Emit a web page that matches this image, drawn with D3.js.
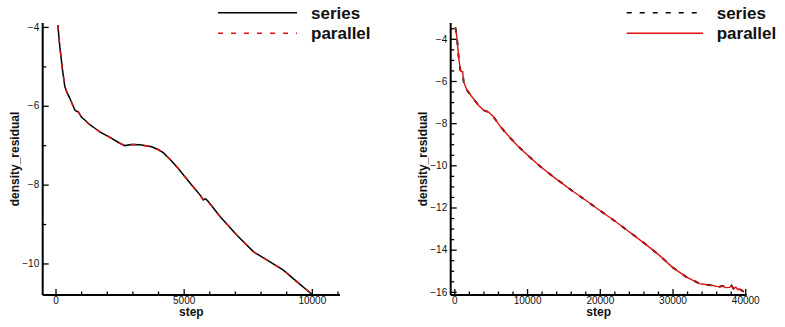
<!DOCTYPE html>
<html>
<head>
<meta charset="utf-8">
<script src="https://cdn.jsdelivr.net/npm/d3@7"></script>
<style>
  html, body { margin: 0; padding: 0; background: #fff; }
  svg { display: block; font-family: "Liberation Sans", Arial, Helvetica, sans-serif; }
</style>
</head>
<body>
<svg id="chart" width="785" height="327"></svg>
<script>
// ---------- data: left panel (10000 steps) ----------
const stepsA = [90, 168, 273, 363, 460, 559, 650, 754, 820, 883, 950, 1016, 1144, 1300, 1535, 1730, 2121, 2512, 2707, 2969, 3300, 3750, 4000, 4203, 4500, 4789, 5050, 5312, 5637, 5766, 5830, 5870, 5961, 6418, 7070, 7719, 8242, 8891, 9414, 10000];
const seriesA = [-3.95, -4.50, -5.09, -5.51, -5.68, -5.81, -5.95, -6.11, -6.14, -6.15, -6.22, -6.29, -6.36, -6.46, -6.57, -6.66, -6.80, -6.95, -7.01, -6.98, -6.99, -7.04, -7.11, -7.19, -7.38, -7.59, -7.80, -8.01, -8.26, -8.39, -8.36, -8.37, -8.43, -8.81, -9.28, -9.70, -9.91, -10.17, -10.46, -10.78];
const parallelA = [-3.95, -4.50, -5.09, -5.51, -5.68, -5.81, -5.95, -6.11, -6.14, -6.15, -6.22, -6.29, -6.36, -6.46, -6.57, -6.66, -6.80, -6.95, -7.01, -6.98, -6.99, -7.04, -7.11, -7.19, -7.38, -7.59, -7.80, -8.01, -8.26, -8.39, -8.36, -8.37, -8.43, -8.81, -9.28, -9.70, -9.91, -10.17, -10.46, -10.78];

// ---------- data: right panel (40000 steps) ----------
const stepsB = [138, 372, 592, 826, 950, 1150, 1280, 1750, 2440, 3350, 4035, 4720, 5410, 6330, 7000, 7800, 8760, 9860, 11690, 13990, 16290, 18120, 20000, 21790, 24070, 26370, 28200, 30040, 31870, 33700, 34500, 35080, 35600, 36000, 36450, 36900, 37300, 37830, 38100, 38400, 38700, 39000, 39200, 39500, 39800];
const seriesB = [-3.46, -3.98, -4.86, -5.49, -5.55, -5.56, -6.05, -6.44, -6.76, -7.16, -7.39, -7.48, -7.71, -8.16, -8.43, -8.74, -9.09, -9.45, -10.02, -10.64, -11.23, -11.67, -12.14, -12.57, -13.16, -13.76, -14.27, -14.85, -15.29, -15.61, -15.65, -15.68, -15.70, -15.74, -15.76, -15.72, -15.80, -15.79, -15.70, -15.85, -15.78, -15.90, -15.86, -15.93, -16.00];
const parallelB = [-3.46, -3.98, -4.86, -5.49, -5.55, -5.56, -6.05, -6.44, -6.76, -7.16, -7.39, -7.48, -7.71, -8.16, -8.43, -8.74, -9.09, -9.45, -10.02, -10.64, -11.23, -11.67, -12.14, -12.57, -13.16, -13.76, -14.27, -14.85, -15.29, -15.61, -15.65, -15.68, -15.70, -15.74, -15.76, -15.72, -15.80, -15.79, -15.70, -15.85, -15.78, -15.90, -15.86, -15.93, -16.00];

// ---------- ticks ----------
const xMajorA = [0, 5000, 10000];
const xMinorA = [1000, 2000, 3000, 4000, 6000, 7000, 8000, 9000, 11000];
const yMajorA = [-4, -6, -8, -10];
const yMinorA = [-5, -7, -9];
const xMajorB = [0, 10000, 20000, 30000, 40000];
const xMinorB = [2000, 4000, 6000, 8000, 12000, 14000, 16000, 18000, 22000, 24000, 26000, 28000, 32000, 34000, 36000, 38000];
const yMajorB = [-4, -6, -8, -10, -12, -14, -16];
const yMinorB = [-3.5, -4.5, -5, -5.5, -6.5, -7, -7.5, -8.5, -9, -9.5, -10.5, -11, -11.5, -12.5, -13, -13.5, -14.5, -15, -15.5];

const legendLabels = ["series", "parallel"];
const RED = "#e01010";

const svg = d3.select("#chart");

function panel(cfg) {
  const g = svg.append("g");
  const x = d3.scaleLinear().domain(cfg.xDomain).range([cfg.left, cfg.right]);
  const y = d3.scaleLinear().domain(cfg.yDomain).range([cfg.bottom, cfg.top]);

  const xMaj = d3.axisBottom(x).tickValues(cfg.xMajor).tickSizeInner(-6).tickSizeOuter(0).tickPadding(2).tickFormat(d3.format("d"));
  const xMin = d3.axisBottom(x).tickValues(cfg.xMinor).tickSizeInner(-3.5).tickSizeOuter(0).tickFormat("");
  const yMaj = d3.axisLeft(y).tickValues(cfg.yMajor).tickSizeInner(-6).tickSizeOuter(0).tickPadding(3.5).tickFormat(d3.format("d"));
  const yMin = d3.axisLeft(y).tickValues(cfg.yMinor).tickSizeInner(-3.5).tickSizeOuter(0).tickFormat("");

  const ax = [
    g.append("g").attr("transform", `translate(0,${cfg.bottom})`).call(xMin),
    g.append("g").attr("transform", `translate(0,${cfg.bottom})`).call(xMaj),
    g.append("g").attr("transform", `translate(${cfg.left},0)`).call(yMin),
    g.append("g").attr("transform", `translate(${cfg.left},0)`).call(yMaj)
  ];
  ax.forEach(a => {
    a.select(".domain").remove();
    a.selectAll(".tick line").attr("stroke", "#000").attr("stroke-width", 1.3);
    a.selectAll(".tick text").attr("fill", "#111").style("font-size", "10px")
      .style("font-family", '"Liberation Sans", Arial, sans-serif');
  });
  g.append("line").attr("x1", cfg.left).attr("x2", cfg.right).attr("y1", cfg.bottom).attr("y2", cfg.bottom)
    .attr("stroke", "#000").attr("stroke-width", 2);
  g.append("line").attr("x1", cfg.left).attr("x2", cfg.left).attr("y1", cfg.top).attr("y2", cfg.bottom)
    .attr("stroke", "#000").attr("stroke-width", 2);

  const line = d3.line().x((d, i) => x(cfg.steps[i])).y(d => y(d));

  if (cfg.mode === "A") {
    g.append("path").datum(cfg.series).attr("d", line).attr("fill", "none").attr("stroke", "#000").attr("stroke-width", 1.5);
    g.append("path").datum(cfg.parallel).attr("d", line).attr("fill", "none").attr("stroke", RED).attr("stroke-width", 1.5).attr("stroke-dasharray", "5,8");
  } else {
    g.append("path").datum(cfg.series).attr("d", line).attr("fill", "none").attr("stroke", "#000").attr("stroke-width", 1.9).attr("stroke-dasharray", "5,8");
    g.append("path").datum(cfg.parallel).attr("d", line).attr("fill", "none").attr("stroke", RED).attr("stroke-width", 1.4);
  }

  g.append("text").attr("x", (cfg.left + cfg.right) / 2).attr("y", 316).attr("text-anchor", "middle")
    .style("font-size", "12px").style("font-weight", "bold").attr("fill", "#111").text("step");
  g.append("text").attr("transform", `translate(${cfg.yTitleX},${(cfg.top + cfg.bottom) / 2}) rotate(-90)`)
    .attr("text-anchor", "middle").style("font-size", "12px").style("font-weight", "bold").attr("fill", "#111")
    .text("density_residual");

  const styles = cfg.mode === "A"
    ? [{ c: "#000", d: null }, { c: RED, d: "5,8" }]
    : [{ c: "#000", d: "5,8" }, { c: RED, d: null }];
  legendLabels.forEach((lab, i) => {
    const ly = 12.7 + i * 20.6;
    const l = g.append("line").attr("x1", cfg.legX1).attr("x2", cfg.legX2).attr("y1", ly).attr("y2", ly)
      .attr("stroke", styles[i].c).attr("stroke-width", 1.5);
    if (styles[i].d) l.attr("stroke-dasharray", styles[i].d);
    g.append("text").attr("x", cfg.legText).attr("y", ly + 5.8)
      .style("font-size", "17px").style("font-weight", "bold").attr("fill", "#111").text(lab);
  });
}

panel({
  mode: "A", steps: stepsA, series: seriesA, parallel: parallelA,
  xDomain: [-500, 11100], yDomain: [-10.8, -3.9],
  left: 42.7, right: 340, top: 23, bottom: 295,
  xMajor: xMajorA, xMinor: xMinorA, yMajor: yMajorA, yMinor: yMinorA,
  yTitleX: 19, legX1: 218, legX2: 297, legText: 311
});
panel({
  mode: "B", steps: stepsB, series: seriesB, parallel: parallelB,
  xDomain: [-500, 40200], yDomain: [-16.15, -3.25],
  left: 450.7, right: 746.7, top: 23, bottom: 295,
  xMajor: xMajorB, xMinor: xMinorB, yMajor: yMajorB, yMinor: yMinorB,
  yTitleX: 427, legX1: 626.7, legX2: 703, legText: 716.7
});
</script>
</body>
</html>
